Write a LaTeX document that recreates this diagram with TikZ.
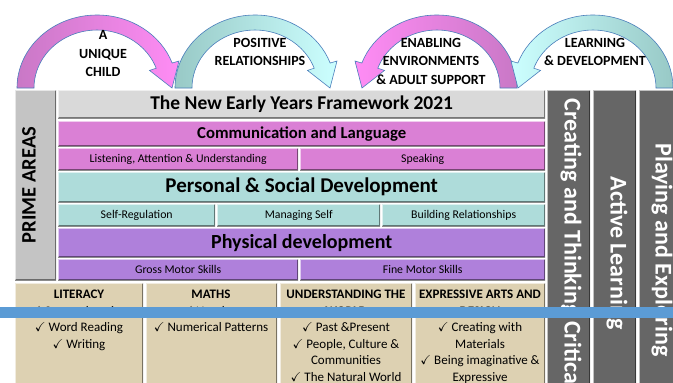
\documentclass[tikz,border=0pt]{standalone}
\usepackage{fontspec}
\setmainfont{Carlito}
\usepackage{amssymb}
\definecolor{titlegray}{HTML}{D9D9D9}
\definecolor{primegray}{HTML}{C4C4C4}
\definecolor{commpink}{HTML}{DA80D5}
\definecolor{psdteal}{HTML}{AEDCDA}
\definecolor{physpurple}{HTML}{AF80DB}
\definecolor{areabeige}{HTML}{DDD1B2}
\definecolor{colgray}{HTML}{666666}
\definecolor{bandblue}{HTML}{5B9BD5}
\definecolor{arrowline}{HTML}{4A7EBB}
\definecolor{orchidA}{HTML}{C978C6}
\definecolor{pinkA}{HTML}{FF8CF5}
\definecolor{tealA}{HTML}{98C9C6}
\definecolor{cyanA}{HTML}{CCFFFF}
% curved arrow: centre x, direction (1 or -1), left colour, right colour
\newcommand{\bendarrow}[4]{%
  \begin{scope}[shift={(#1,88)}, x=#2pt]
    \path[left color=#3, right color=#4, draw=arrowline, line width=.6pt]
      (-80,0) arc[start angle=180, end angle=340, x radius=80, y radius=73]
      -- (82,-27) -- (75,0) -- (52.5,-17.6) -- (59.2,-19.8)
      arc[start angle=340, end angle=180, x radius=63, y radius=58] -- cycle;
  \end{scope}}
\tikzset{
  bevel/.style={path picture={
      \draw[black, opacity=.45, line width=3pt] (path picture bounding box.south west)
        -- (path picture bounding box.south east) -- (path picture bounding box.north east);
      \draw[white, opacity=.6, line width=2pt] (path picture bounding box.south west)
        -- (path picture bounding box.north west) -- (path picture bounding box.north east);}},
  bar/.style={rectangle, inner sep=0pt, anchor=north west, bevel},
  arrowlbl/.style={align=center, font=\bfseries\fontsize{14}{18.5}\selectfont},
  sublbl/.style={font=\fontsize{11.8}{12}\selectfont},
  areatext/.style={anchor=north, align=center, inner sep=0pt, font=\fontsize{13}{16.5}\selectfont},
  collbl/.style={rotate=-90, text=white, font=\bfseries\fontsize{24}{24}\selectfont}
}
\begin{document}
\begin{tikzpicture}[x=1pt, y=-1pt]
  \clip (0,0) rectangle (673,383);
  \fill[white] (0,0) rectangle (673,383);

  % the four themes
  \bendarrow{97}{1}{orchidA}{pinkA}
  \bendarrow{255}{1}{tealA}{cyanA}
  \bendarrow{437}{-1}{pinkA}{orchidA}
  \bendarrow{593}{-1}{cyanA}{tealA}
  \node[arrowlbl] (child) at (103,54) {A\\UNIQUE\\CHILD};
  \node[arrowlbl] (positive) at (260,52) {POSITIVE\\RELATIONSHIPS};
  \node[arrowlbl] (enabling) at (431,61) {ENABLING\\ENVIRONMENTS\\\& ADULT SUPPORT};
  \node[arrowlbl] (learning) at (595,52) {LEARNING\\\& DEVELOPMENT};

  % prime areas
  \node[bar, fill=primegray, minimum width=41pt, minimum height=190pt] (prime) at (15,90) {};
  \node[rotate=90, font=\bfseries\fontsize{20.5}{21}\selectfont] (primelbl) at (29,185) {PRIME AREAS};
  \node[bar, fill=titlegray, minimum width=487pt, minimum height=28pt,
    font=\bfseries\fontsize{19.5}{20}\selectfont] (title) at (58,90) {The New Early Years Framework 2021};
  \node[bar, fill=commpink, minimum width=487pt, minimum height=25pt,
    font=\bfseries\fontsize{16.7}{17}\selectfont] (comm) at (58,121) {Communication and Language};
  \node[bar, sublbl, fill=commpink, minimum width=240pt, minimum height=22pt] (listen) at (58,148) {Listening, Attention \& Understanding};
  \node[bar, sublbl, fill=commpink, minimum width=245pt, minimum height=22pt] (speak) at (300,148) {Speaking};
  \node[bar, fill=psdteal, minimum width=487pt, minimum height=30pt,
    font=\bfseries\fontsize{21}{21}\selectfont] (psd) at (58,172) {Personal \& Social Development};
  \node[bar, sublbl, fill=psdteal, minimum width=157pt, minimum height=22pt] (selfreg) at (58,204) {Self-Regulation};
  \node[bar, sublbl, fill=psdteal, minimum width=163pt, minimum height=22pt] (managing) at (217,204) {Managing Self};
  \node[bar, sublbl, fill=psdteal, minimum width=163pt, minimum height=22pt] (building) at (382,204) {Building Relationships};
  \node[bar, fill=physpurple, minimum width=487pt, minimum height=29pt,
    font=\bfseries\fontsize{20}{20}\selectfont] (phys) at (58,228) {Physical development};
  \node[bar, sublbl, fill=physpurple, minimum width=240pt, minimum height=21pt] (gross) at (58,259) {Gross Motor Skills};
  \node[bar, sublbl, fill=physpurple, minimum width=245pt, minimum height=21pt] (fine) at (300,259) {Fine Motor Skills};

  % specific areas
  \node[bar, fill=areabeige, minimum width=128pt, minimum height=120pt] (literacy) at (15,283) {};
  \node[bar, fill=areabeige, minimum width=131pt, minimum height=120pt] (maths) at (146,283) {};
  \node[bar, fill=areabeige, minimum width=132pt, minimum height=120pt] (world) at (280,283) {};
  \node[bar, fill=areabeige, minimum width=130pt, minimum height=120pt] (arts) at (415,283) {};
  \node[areatext] (littext) at (79,290) {{\bfseries LITERACY}\\$\checkmark$ Comprehension\\$\checkmark$ Word Reading\\$\checkmark$ Writing};
  \node[areatext] (mathtext) at (211,290) {{\bfseries MATHS}\\$\checkmark$ Number\\$\checkmark$ Numerical Patterns};
  \node[areatext] (worldtext) at (346,290) {{\bfseries UNDERSTANDING THE}\\{\bfseries WORLD}\\$\checkmark$ Past \&Present\\$\checkmark$ People, Culture \&\\Communities\\$\checkmark$ The Natural World};
  \node[areatext] (artstext) at (480,290) {{\bfseries EXPRESSIVE ARTS AND}\\{\bfseries DESIGN}\\$\checkmark$ Creating with\\Materials\\$\checkmark$ Being imaginative \&\\Expressive};

  % characteristics of effective learning
  \node[bar, fill=colgray, minimum width=43pt, minimum height=320pt] (creating) at (547,90) {};
  \node[bar, fill=colgray, minimum width=43pt, minimum height=320pt] (active) at (593,90) {};
  \node[bar, fill=colgray, minimum width=45pt, minimum height=320pt] (playing) at (639,90) {};
  \node[collbl] (creatinglbl) at (571,253) {Creating and Thinking Critically};
  \node[collbl] (activelbl) at (617,253) {Active Learning};
  \node[collbl] (playinglbl) at (662,250) {Playing and Exploring};

  \fill[bandblue] (0,307) rectangle (673,318);
\end{tikzpicture}
\end{document}
